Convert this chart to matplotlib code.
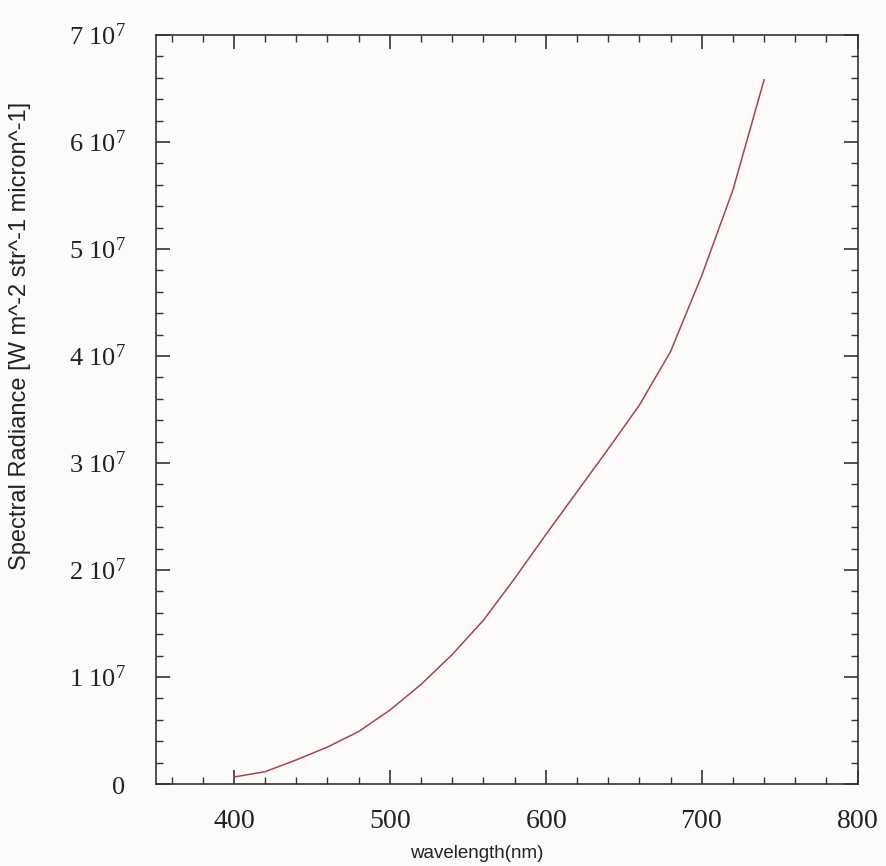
import matplotlib
matplotlib.use("Agg")
import matplotlib.pyplot as plt
from matplotlib.ticker import MultipleLocator, FuncFormatter

wavelength_nm = [400, 420, 440, 460, 480, 500, 520, 540, 560, 580, 600,
                 620, 640, 660, 680, 700, 720, 740]
radiance = [0.65e6, 1.15e6, 2.25e6, 3.45e6, 4.9e6, 6.9e6, 9.3e6, 1.21e7,
            1.53e7, 1.92e7, 2.33e7, 2.73e7, 3.13e7, 3.54e7, 4.04e7, 4.75e7,
            5.55e7, 6.58e7]

x_label = "wavelength(nm)"
y_label = "Spectral Radiance [W m^-2 str^-1 micron^-1]"

plt.rcParams['mathtext.fontset'] = 'custom'
plt.rcParams['mathtext.rm'] = 'Liberation Serif'
plt.rcParams['mathtext.it'] = 'Liberation Serif:italic'

bg = '#fdfbfa'
fig = plt.figure(figsize=(8.86, 8.66), dpi=100, facecolor=bg)
ax = fig.add_axes([0.176, 0.0947, 0.792, 0.865], facecolor=bg)

ax.plot(wavelength_nm, radiance, color='#a3425a', lw=1.1)

ax.set_xlim(350, 800)
ax.set_ylim(0, 7e7)

ax.xaxis.set_major_locator(MultipleLocator(100))
ax.xaxis.set_minor_locator(MultipleLocator(20))
ax.yaxis.set_major_locator(MultipleLocator(1e7))
ax.yaxis.set_minor_locator(MultipleLocator(2e6))

def yfmt(v, pos):
    k = int(round(v / 1e7))
    if k == 0:
        return r"$\mathrm{0}$"
    return r"$\mathrm{%d\ 10^{7}}$" % k

ax.yaxis.set_major_formatter(FuncFormatter(yfmt))
ax.xaxis.set_major_formatter(FuncFormatter(lambda v, p: r"$\mathrm{%d}$" % v))

axcol = '#333333'
for s in ax.spines.values():
    s.set_color(axcol)
    s.set_linewidth(1.2)

ax.tick_params(which='both', direction='in', top=True, right=True, color=axcol)
ax.tick_params(which='major', length=10, width=1.2, labelcolor='#222222')
ax.tick_params(which='minor', length=5, width=1.0)
ax.tick_params(axis='x', which='major', pad=16, labelsize=20)
ax.tick_params(axis='y', which='major', pad=22, labelsize=19)

ax.set_xlabel(x_label, family='Liberation Sans', fontsize=13.5, color='#222222')
ax.xaxis.set_label_coords(0.457, -0.082)
ax.set_ylabel(y_label, family='Liberation Sans', fontsize=17, color='#222222')
ax.yaxis.set_label_coords(-0.178, 0.598)

fig.savefig("out.png", dpi=100, facecolor=bg)
